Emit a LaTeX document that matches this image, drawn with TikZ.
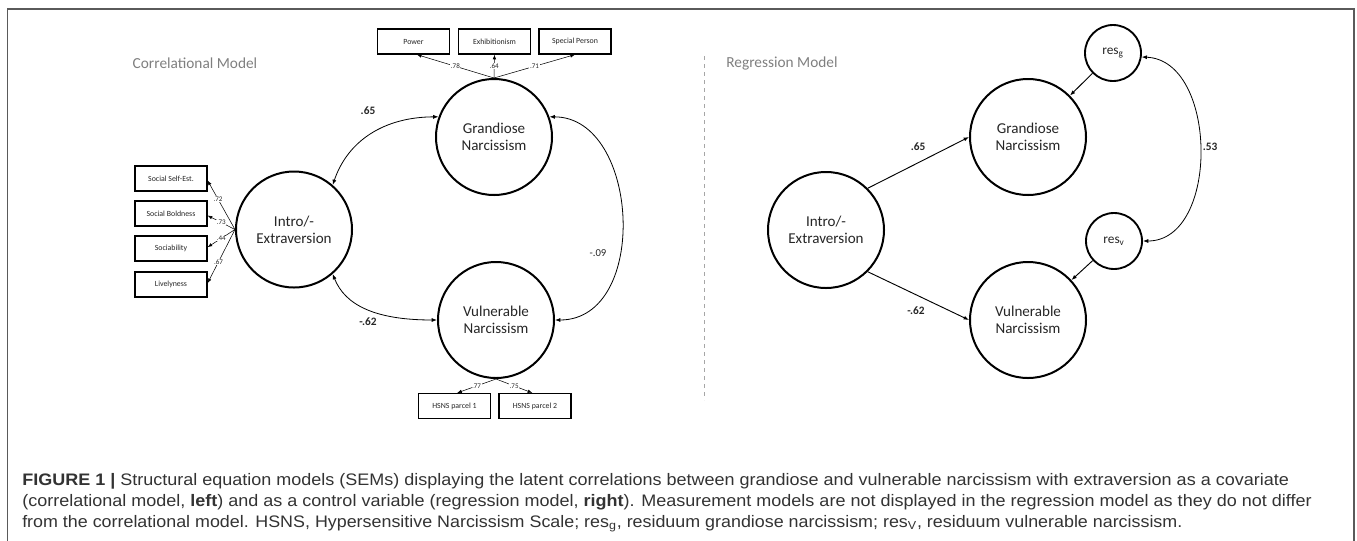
\documentclass[tikz,border=0pt]{standalone}
\usepackage{fontspec}
\usepackage{graphicx}
\setmainfont{Carlito}
\newfontfamily\capfont{Liberation Sans}
\usetikzlibrary{arrows.meta}
\definecolor{hdr}{HTML}{7F7F7F}
\definecolor{frm}{HTML}{5A5A5A}
\definecolor{txt}{HTML}{262626}
\definecolor{captxt}{HTML}{333333}
\tikzset{
  lat/.style={circle,draw=black,line width=1.5pt,minimum size=87pt,inner sep=0pt,align=center,font=\fontsize{11.3}{13}\selectfont,text=txt},
  res/.style={circle,draw=black,line width=1.4pt,minimum size=42pt,inner sep=0pt,font=\fontsize{10}{12}\selectfont,text=txt},
  obs/.style={rectangle,draw=black,line width=0.9pt,minimum width=54pt,minimum height=18.75pt,inner sep=0pt,font=\fontsize{5.9}{7}\selectfont,text=txt},
  ld/.style={draw=black,line width=0.4pt,-{Latex[length=3.5pt,width=2.6pt]}},
  cor/.style={draw=black,line width=0.6pt,{Latex[length=4pt,width=3pt]}-{Latex[length=4pt,width=3pt]}},
  reg/.style={draw=black,line width=0.7pt,-{Latex[length=4pt,width=3pt]}},
  lw/.style={fill=white,inner sep=0.4pt,font=\fontsize{5.3}{6}\selectfont,text=txt},
  est/.style={font=\bfseries\fontsize{8.5}{10}\selectfont,text=txt},
  hdrtext/.style={font=\fontsize{11.5}{13}\selectfont,text=hdr},
  capline/.style={anchor=base west,inner sep=0pt,font=\capfont\fontsize{12.5}{14}\selectfont,text=captxt}
}
\begin{document}
\begin{tikzpicture}[x=0.75pt,y=-0.75pt]
\useasboundingbox (0,0) rectangle (1357,540);
% frame
\draw[frm,line width=1.3pt] (7.5,545) -- (7.5,9) -- (1354,9) -- (1354,545);
% headers
\node[hdrtext] (hl) at (195,63) {Correlational Model};
\node[hdrtext] (hr) at (782,63) {Regression Model};
\draw[gray!70,dashed,line width=0.5pt] (704,56) -- (704,400);

% ---------- left model ----------
\node[lat] (G1) at (494,137) {Grandiose\\Narcissism};
\node[lat] (I1) at (294,229.5) {Intro/-\\Extraversion};
\node[lat] (V1) at (496,320) {Vulnerable\\Narcissism};

\node[obs] (pw) at (413.5,41.5) {Power};
\node[obs] (ex) at (494.5,41.5) {Exhibitionism};
\node[obs] (sp) at (575,41.5) {Special Person};

\node[obs] (sse) at (171,178.5) {Social Self-Est.};
\node[obs] (sb) at (171,213.5) {Social Boldness};
\node[obs] (so) at (171,248.5) {Sociability};
\node[obs] (lv) at (171,284.5) {Livelyness};

\node[obs] (h1) at (454.5,406) {HSNS parcel 1};
\node[obs] (h2) at (535,406) {HSNS parcel 2};

\draw[ld] (G1.north) -- node[lw,pos=0.5] {.78} ([xshift=2.5pt]pw.south);
\draw[ld] (G1.north) -- node[lw,pos=0.5] {.64} (ex.south);
\draw[ld] (G1.north) -- node[lw,pos=0.5] {.71} (sp.south);

\draw[ld] (I1.west) -- node[lw,pos=0.62] {.72} ([yshift=-1.5pt]sse.east);
\draw[ld] (I1.west) -- node[lw,pos=0.5] {.73} ([yshift=-1.5pt]sb.east);
\draw[ld] (I1.west) -- node[lw,pos=0.5] {.44} ([yshift=1pt]so.east);
\draw[ld] (I1.west) -- node[lw,pos=0.6] {.67} ([yshift=1pt]lv.east);

\draw[ld] (V1.south) -- node[lw,pos=0.5] {.77} ([xshift=2pt]h1.north);
\draw[ld] (V1.south) -- node[lw,pos=0.5] {.75} ([xshift=-2pt]h2.north);

\draw[cor] (I1.49) .. controls (348,140) and (385,117) .. (G1.160);
\draw[cor] (I1.-49) .. controls (345,305) and (375,320) .. (V1.west);
\draw[cor] (G1.20) .. controls (640,117) and (650,320) .. (V1.east);

\node[est] (e65) at (368,111) {.65};
\node[est] (e62) at (368,322) {-.62};
\node[font=\fontsize{8}{9}\selectfont,text=txt] (e09) at (598,253) {-.09};

% ---------- right model ----------
\node[lat] (G2) at (1028,137) {Grandiose\\Narcissism};
\node[lat] (I2) at (826,230) {Intro/-\\Extraversion};
\node[lat] (V2) at (1028,320) {Vulnerable\\Narcissism};
\node[res] (rg) at (1113,53) {res\textsubscript{g}};
\node[res] (rv) at (1114,241) {res\textsubscript{v}};

\draw[reg] (I2.45) -- (G2.west);
\draw[reg] (I2.-45) -- (V2.west);
\draw[reg] (rg) -- (G2);
\draw[reg] (rv) -- (V2);
\draw[cor] (rg.-8) .. controls (1218,60) and (1220,241) .. (rv.east);

\node[est] (f65) at (918,147) {.65};
\node[est] (f62) at (916,311) {-.62};
\node[est] (f53) at (1210,147) {.53};

% ---------- caption ----------
\node[capline] (c1) at (22,485) {\resizebox{950pt}{\height}{\textbf{FIGURE 1 |} Structural equation models (SEMs) displaying the latent correlations between grandiose and vulnerable narcissism with extraversion as a covariate}};
\node[capline] (c2) at (22,506) {\resizebox{967pt}{\height}{(correlational model, \textbf{left}) and as a control variable (regression model, \textbf{right}). Measurement models are not displayed in the regression model as they do not differ}};
\node[capline] (c3) at (22,527) {\resizebox{870pt}{\height}{from the correlational model. HSNS, Hypersensitive Narcissism Scale; res\textsubscript{g}, residuum grandiose narcissism; res\textsubscript{V}, residuum vulnerable narcissism.}};
\end{tikzpicture}
\end{document}
